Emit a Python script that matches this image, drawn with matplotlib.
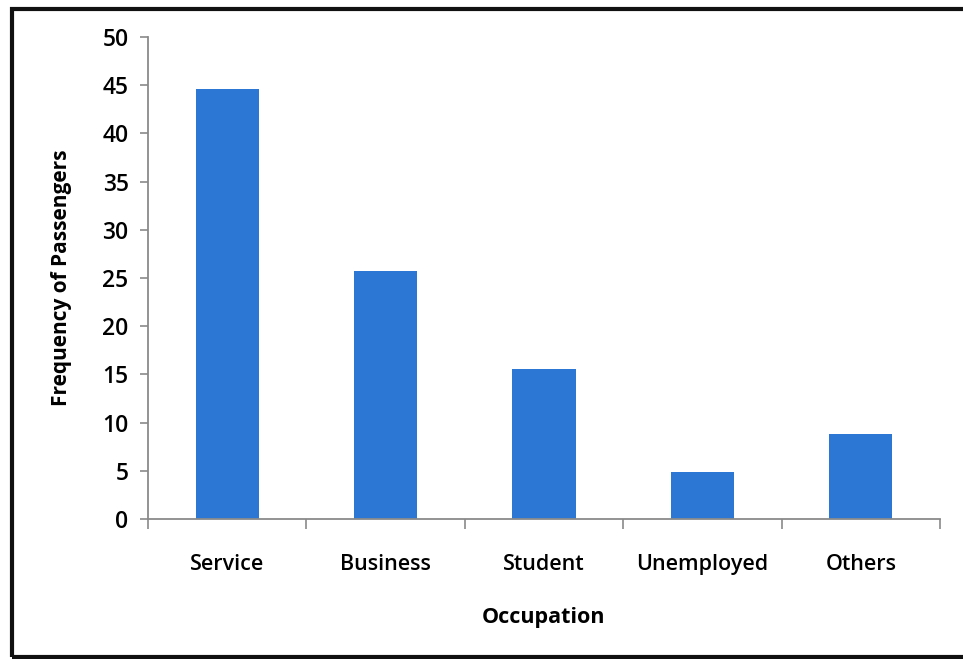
import matplotlib.pyplot as plt
from matplotlib.patches import Rectangle
from matplotlib.ticker import FixedLocator, NullFormatter

plt.rcParams["font.family"] = ["Open Sans", "DejaVu Sans"]

occupations = ["Service", "Business", "Student", "Unemployed", "Others"]
passengers = [44.6, 25.7, 15.6, 4.9, 8.8]
y_ticks = [0, 5, 10, 15, 20, 25, 30, 35, 40, 45, 50]

bar_color = "#2C77D4"
axis_color = "#8a8a8a"

fig = plt.figure(figsize=(9.63, 6.59), dpi=100)
ax = fig.add_axes([0.1537, 0.2124, 0.8224, 0.7315])

positions = list(range(len(occupations)))
ax.bar(positions, passengers, width=0.4, color=bar_color, zorder=2)

ax.set_xlim(-0.5, len(occupations) - 0.5)
ax.set_ylim(0, 50)
ax.set_yticks(y_ticks)

# category separators as major ticks, names on minor ticks
ax.xaxis.set_major_locator(FixedLocator([p - 0.5 for p in positions] + [positions[-1] + 0.5]))
ax.xaxis.set_major_formatter(NullFormatter())
ax.xaxis.set_minor_locator(FixedLocator(positions))
ax.set_xticklabels(occupations, minor=True)
ax.tick_params(axis="x", which="major", length=7, width=1.2, color=axis_color, direction="out")
ax.tick_params(axis="x", which="minor", length=0, pad=25, labelsize=15.5)
ax.tick_params(axis="y", length=6, width=1.2, color=axis_color, direction="out", pad=8, labelsize=16.5)
for lbl in ax.get_xticklabels(minor=True) + ax.get_yticklabels():
    lbl.set_fontweight("semibold")

for side in ("top", "right"):
    ax.spines[side].set_visible(False)
for side in ("left", "bottom"):
    ax.spines[side].set_color(axis_color)
    ax.spines[side].set_linewidth(1.3)

ax.set_xlabel("Occupation", fontsize=15.5, fontweight="bold", labelpad=23)
ax.set_ylabel("Frequency of Passengers", fontsize=15, fontweight="bold", labelpad=22)

# page frame around the chart
fig.patches.append(Rectangle((12 / 963, 2 / 659), 960 / 963, 648 / 659,
                             transform=fig.transFigure, fill=False,
                             edgecolor="#111111", linewidth=3))

fig.savefig("out.png", dpi=100)
